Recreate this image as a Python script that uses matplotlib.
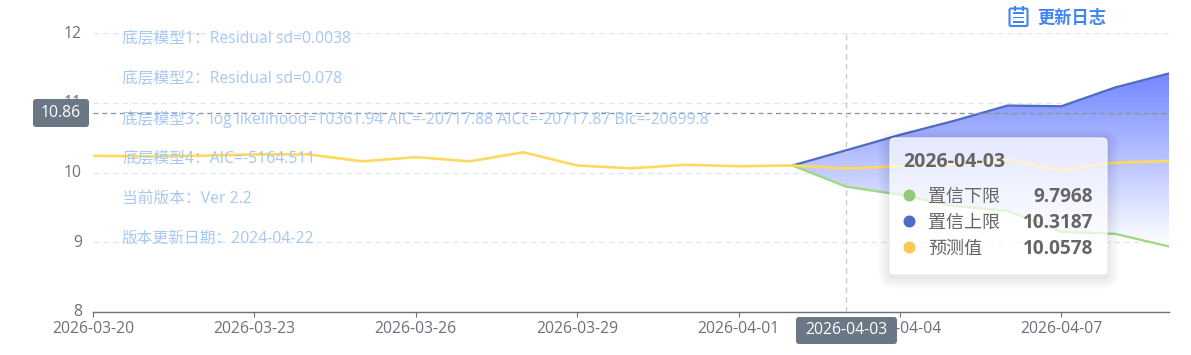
import numpy as np
import pandas as pd
import matplotlib
matplotlib.use("Agg")
import matplotlib.pyplot as plt
import matplotlib.transforms as mtrans
from matplotlib.colors import LinearSegmentedColormap
from matplotlib.patches import FancyBboxPatch, Rectangle, Circle, PathPatch
from matplotlib.path import Path

plt.rcParams['font.family'] = ['Open Sans', 'Noto Sans CJK SC', 'DejaVu Sans']

# data
dates = pd.date_range("2026-03-20", "2026-04-09")
predict = [10.24, 10.23, 10.24, 10.26, 10.26, 10.16, 10.22, 10.16, 10.29, 10.10,
           10.06, 10.11, 10.09, 10.10, 10.0578, 10.09, 10.12, 10.18, 10.03, 10.14, 10.165]
band_dates = dates[13:]
upper = [10.10, 10.3187, 10.54, 10.74, 10.96, 10.95, 11.22, 11.42]
lower = [10.10, 9.7968, 9.68, 9.52, 9.45, 9.15, 9.12, 8.94]
yticks = [8, 9, 10, 11, 12]
xtick_dates = ["2026-03-20", "2026-03-23", "2026-03-26", "2026-03-29", "2026-04-01", "2026-04-04", "2026-04-07"]
pointer_y = 10.86
pointer_date = "2026-04-03"
notes = ["底层模型1：Residual sd=0.0038",
         "底层模型2：Residual sd=0.078",
         "底层模型3：log likelihood=10361.94 AIC=-20717.88 AICc=-20717.87 BIc=-20699.8",
         "底层模型4：AIC=-5164.511",
         "当前版本：Ver 2.2",
         "版本更新日期：2024-04-22"]
tip_names = ["置信下限", "置信上限", "预测值"]
tip_values = ["9.7968", "10.3187", "10.0578"]
tip_colors = ["#91cc75", "#4f6cc8", "#fac858"]

W, H = 1191, 355
fig = plt.figure(figsize=(W / 100, H / 100), dpi=100)
ax = fig.add_axes([93 / W, 1 - 312 / H, (1169 - 93) / W, (312 - 33) / H])
px = mtrans.Affine2D().scale(1, -1).translate(0, H)  # picture pixels, y down

x0, x1 = dates[0], dates[-1]
ax.set_xlim(x0, x1)
ax.set_ylim(8, 12)
for s in ['top', 'left', 'right']:
    ax.spines[s].set_visible(False)
ax.spines['bottom'].set_color('#6e7079')
ax.spines['bottom'].set_linewidth(1)
ax.set_xticks(pd.to_datetime(xtick_dates))
ax.set_xticklabels(xtick_dates, fontsize=11.3, color='#6e7079')
ax.set_yticks(yticks)
ax.set_yticklabels([str(v) for v in yticks], fontsize=11.3, color='#6e7079')
ax.tick_params(axis='x', length=3.6, width=0.8, color='#6e7079', pad=2.8)
ax.tick_params(axis='y', length=0, pad=8)
for lab in ax.get_yticklabels():
    lab.set_transform(lab.get_transform() + mtrans.Affine2D().translate(0, 1.5))
ax.grid(axis='y', color='#e0e6f1', linestyle=(0, (4, 3)), linewidth=1)
ax.set_axisbelow(True)

# gradient band between the limits
cmap = LinearSegmentedColormap.from_list("band", ["#7387ff", "#ffffff"])
poly = ax.fill_between(band_dates, lower, upper, color='none', linewidth=0)
img = ax.imshow(np.linspace(0, 1, 256).reshape(-1, 1), cmap=cmap, aspect='auto', zorder=1.5,
                extent=[matplotlib.dates.date2num(band_dates[0]), matplotlib.dates.date2num(x1), 8.94, 11.42])
img.set_clip_path(poly.get_paths()[0], transform=ax.transData)
ax.set_xlim(x0, x1)
ax.set_ylim(8, 12)

ax.plot(band_dates, lower, color='#9bd97f', lw=1.6, zorder=3)
ax.plot(band_dates, upper, color='#4f6cc0', lw=1.6, zorder=3)
ax.plot(dates, predict, color='#ffd95e', lw=1.9, zorder=3.1)

# pointers
ax.axhline(pointer_y, color='#8a8f99', lw=0.9, linestyle=(0, (4, 3)), zorder=3.2)
ax.axvline(pd.Timestamp(pointer_date), color='#c5c9d0', lw=1, linestyle=(0, (4, 3)), zorder=3.2)

# notes over the chart
for i, t in enumerate(notes):
    fig.text(122 / W, 1 - (39 + i * 40) / H, t, fontsize=11.3, color='#a6c8f2', va='center', ha='left', zorder=6)

def box(x, y, w, h, r, **kw):
    p = FancyBboxPatch((x + r, y + r), w - 2 * r, h - 2 * r, boxstyle="round,pad=%g,rounding_size=%g" % (r, r),
                       transform=px, clip_on=False, **kw)
    ax.add_patch(p)
    return p

# axis pointer labels
box(33, 99, 56, 28, 3, fc='#6a7785', ec='none', zorder=7)
fig.text(61 / W, 1 - 113 / H, "%.2f" % pointer_y, color='white', fontsize=11.3, ha='center', va='center', zorder=8)
box(796, 317, 101, 27, 3, fc='#6a7785', ec='none', zorder=7)
fig.text(846.5 / W, 1 - 329.5 / H, pointer_date, color='white', fontsize=11.3, ha='center', va='center', zorder=8)

# tooltip, the shadow is a ring round the box so the box stays clean
inner = Path([(890, 138), (890, 274), (1107, 274), (1107, 138), (890, 138)], closed=True)
for g in range(12, 0, -1):
    r = 5 + g
    outer = FancyBboxPatch((895, 146), 207, 126, boxstyle="round,pad=%g,rounding_size=%g" % (r, r)).get_path()
    ring = Path.make_compound_path(outer, inner)
    ax.add_patch(PathPatch(ring, transform=px, fc='#000000', ec='none', alpha=0.007, clip_on=False, zorder=8))
box(890, 138, 217, 136, 5, fc='#ffffff', ec='#ffffff', lw=1, alpha=0.7, zorder=9)
fig.text(903 / W, 1 - 162 / H, pointer_date, color='#666666', fontsize=14, fontweight='bold', va='center', zorder=10)
for i, (n, v, c) in enumerate(zip(tip_names, tip_values, tip_colors)):
    yy = 195.5 + i * 26
    ax.add_patch(Circle((909.5, yy), 6, transform=px, fc=c, ec='none', clip_on=False, zorder=10))
    fig.text(928 / W, 1 - (yy + 1) / H, n, color='#666666', fontsize=13, va='center', zorder=10)
    fig.text(1093 / W, 1 - (yy + 1) / H, v, color='#666666', fontsize=13.7, fontweight='bold', va='center', ha='right', zorder=10)

# update log icon
blue = '#3f86f4'
ax.add_patch(FancyBboxPatch((1009.5, 8.5), 18, 17.5, boxstyle="round,pad=0,rounding_size=1.5", transform=px,
                            fc='none', ec=blue, lw=1.5, clip_on=False, zorder=10))
for xx in (1014.5, 1022.5):
    ax.add_patch(Rectangle((xx - 1, 6), 2, 5, transform=px, fc=blue, ec='none', clip_on=False, zorder=10))
for yy in (13, 17.5, 22):
    ax.add_patch(Rectangle((1013, yy - 0.75), 11, 1.5, transform=px, fc=blue, ec='none', clip_on=False, zorder=10))
fig.text(1037 / W, 1 - 18 / H, "更新日志", color=blue, fontsize=12.4, fontweight='bold', va='center', zorder=10)

fig.savefig("out.png", dpi=100)
